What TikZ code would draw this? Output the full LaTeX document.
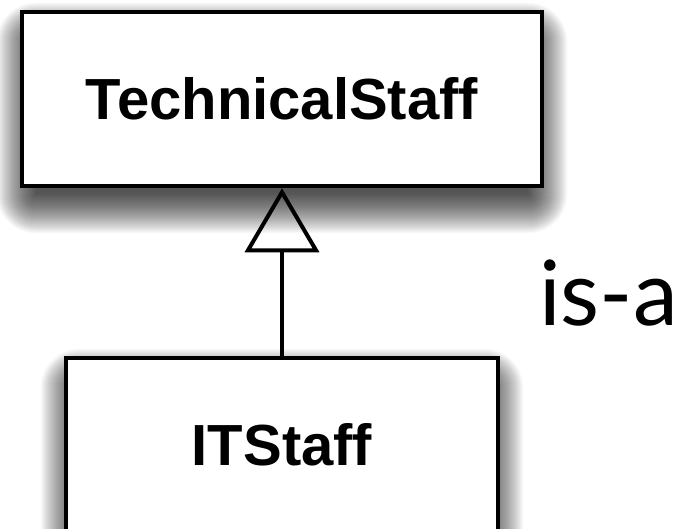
\documentclass[tikz,border=0pt]{standalone}
\usepackage{fontspec}
\setmainfont{Liberation Sans}
\newfontfamily\labelfont{Lato}
\usetikzlibrary{arrows.meta}
\tikzset{
  classbox/.style={draw=black, line width=4.5pt, fill=white,
    inner sep=0pt, font=\bfseries\fontsize{58}{58}\selectfont},
  inherit/.style={line width=4pt,
    -{Triangle[open, length=64pt, width=74pt, line width=4pt]}}
}
% soft drop shadow under a node: stacked translucent rounded rectangles
% core: inset 16pt at the sides, 32pt from the top, 6pt past the bottom
\newcommand\softshadow[1]{%
  \foreach \i in {0,...,39}{
    \fill[black, opacity=0.024, rounded corners=\i pt]
      ([xshift=16pt-\i pt, yshift=\i pt - 32pt]#1.north west) rectangle
      ([xshift=\i pt - 16pt, yshift=-\i pt - 6pt]#1.south east);
  }}
\begin{document}
\begin{tikzpicture}[x=1pt, y=-1pt]
  \useasboundingbox (0,0) rectangle (687,529);
  \fill[white] (0,0) rectangle (687,529);
  % superclass and subclass
  \path node[classbox, draw=none, fill=none, minimum width=520pt, minimum height=174pt] (ts) at (282,99) {}
        node[classbox, draw=none, fill=none, minimum width=432pt, minimum height=174pt] (it) at (282,445) {};
  \softshadow{ts}
  \softshadow{it}
  \node[classbox, minimum width=520pt, minimum height=174pt] at (ts.center) {TechnicalStaff};
  \node[classbox, minimum width=432pt, minimum height=174pt] at (it.center) {ITStaff};
  % generalisation arrow
  \draw[inherit] (it.north) -- (ts.south);
  % relation label
  \node[font=\labelfont\fontsize{90}{90}\selectfont, anchor=base west, inner sep=0pt] (isa) at (539,325) {is-a};
\end{tikzpicture}
\end{document}
